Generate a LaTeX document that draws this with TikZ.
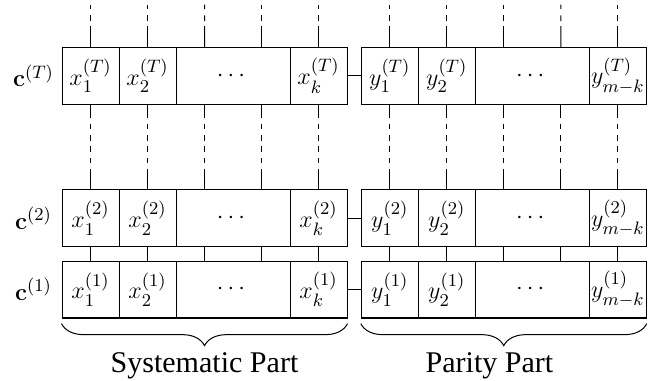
\documentclass[tikz,border=0pt]{standalone}
\usepackage{amsmath, amssymb}
\usepackage[no-math]{fontspec}
\setmainfont{Liberation Serif}
\usetikzlibrary{decorations.pathreplacing}

\begin{document}
\begin{tikzpicture}[
            line width=0.5pt,
            cell/.style={rectangle, draw, minimum width=1cm, minimum height=1cm, inner sep=0pt, font=\fontsize{12.6}{15}\selectfont},
            widecell/.style={cell, minimum width=2cm},
            rowlabel/.style={font=\fontsize{12.6}{15}\selectfont},
            link/.style={dash pattern=on 2.3mm off 1mm on 1mm off 1mm on 1mm off 1mm on 1mm off 1mm on 1mm off 1mm on 4mm},
            stub/.style={dash pattern=on 3.6mm off 0.9mm on 1mm off 1.1mm on 2mm},
            partbrace/.style={decorate, decoration={brace, mirror, amplitude=11pt}},
            partname/.style={font=\fontsize{15}{18}\selectfont, anchor=base}
        ]
            \useasboundingbox (-1.088,-1.088) rectangle (10.386,5.579);

            % Codeword c^(T) (top row)
            \node[rowlabel] (cT) at (-0.5, 4.25) {$\mathbf{c}^{(T)}$};
            \node[cell] (x1T) at (0.5, 4.25) {$x_1^{(T)}$};
            \node[cell] (x2T) at (1.5, 4.25) {$x_2^{(T)}$};
            \node[widecell] (xdT) at (3.0, 4.25) {$\cdots$};
            \node[cell] (xkT) at (4.5, 4.25) {$x_k^{(T)}$};
            \node[cell] (y1T) at (5.75, 4.25) {$y_1^{(T)}$};
            \node[cell] (y2T) at (6.75, 4.25) {$y_2^{(T)}$};
            \node[widecell] (ydT) at (8.25, 4.25) {$\cdots$};
            \node[cell] (ymT) at (9.75, 4.25) {$y_{m-k}^{(T)}$};

            % Codeword c^(2) (row b)
            \node[rowlabel] (cb) at (-0.5, 1.75) {$\mathbf{c}^{(2)}$};
            \node[cell] (x1b) at (0.5, 1.75) {$x_1^{(2)}$};
            \node[cell] (x2b) at (1.5, 1.75) {$x_2^{(2)}$};
            \node[widecell] (xdb) at (3.0, 1.75) {$\cdots$};
            \node[cell] (xkb) at (4.5, 1.75) {$x_k^{(2)}$};
            \node[cell] (y1b) at (5.75, 1.75) {$y_1^{(2)}$};
            \node[cell] (y2b) at (6.75, 1.75) {$y_2^{(2)}$};
            \node[widecell] (ydb) at (8.25, 1.75) {$\cdots$};
            \node[cell] (ymb) at (9.75, 1.75) {$y_{m-k}^{(2)}$};

            % Codeword c^(1) (row a)
            \node[rowlabel] (ca) at (-0.5, 0.5) {$\mathbf{c}^{(1)}$};
            \node[cell] (x1a) at (0.5, 0.5) {$x_1^{(1)}$};
            \node[cell] (x2a) at (1.5, 0.5) {$x_2^{(1)}$};
            \node[widecell] (xda) at (3.0, 0.5) {$\cdots$};
            \node[cell] (xka) at (4.5, 0.5) {$x_k^{(1)}$};
            \node[cell] (y1a) at (5.75, 0.5) {$y_1^{(1)}$};
            \node[cell] (y2a) at (6.75, 0.5) {$y_2^{(1)}$};
            \node[widecell] (yda) at (8.25, 0.5) {$\cdots$};
            \node[cell] (yma) at (9.75, 0.5) {$y_{m-k}^{(1)}$};

            % Free ends above the top row
            \coordinate (top1) at (0.5, 5.5);
            \coordinate (top2) at (1.5, 5.5);
            \coordinate (top3) at (2.5, 5.5);
            \coordinate (top4) at (3.5, 5.5);
            \coordinate (top5) at (4.5, 5.5);
            \coordinate (top6) at (5.75, 5.5);
            \coordinate (top7) at (6.75, 5.5);
            \coordinate (top8) at (7.75, 5.5);
            \coordinate (top9) at (8.75, 5.5);
            \coordinate (top10) at (9.75, 5.5);

            % Stubs above c^(T)
            \draw[stub] (x1T) -- (top1);
            \draw[stub] (x2T) -- (top2);
            \draw[stub] ([xshift=-5mm]xdT.north) -- (top3);
            \draw[stub] ([xshift=5mm]xdT.north) -- (top4);
            \draw[stub] (xkT) -- (top5);
            \draw[stub] (y1T) -- (top6);
            \draw[stub] (y2T) -- (top7);
            \draw[stub] ([xshift=-5mm]ydT.north) -- (top8);
            \draw[stub] ([xshift=5mm]ydT.north) -- (top9);
            \draw[stub] (ymT) -- (top10);

            % Links c^(T) -- c^(2)
            \draw[link] (x1T) -- (x1b);
            \draw[link] (x2T) -- (x2b);
            \draw[link] ([xshift=-5mm]xdT.south) -- ([xshift=-5mm]xdb.north);
            \draw[link] ([xshift=5mm]xdT.south) -- ([xshift=5mm]xdb.north);
            \draw[link] (xkT) -- (xkb);
            \draw[link] (y1T) -- (y1b);
            \draw[link] (y2T) -- (y2b);
            \draw[link] ([xshift=-5mm]ydT.south) -- ([xshift=-5mm]ydb.north);
            \draw[link] ([xshift=5mm]ydT.south) -- ([xshift=5mm]ydb.north);
            \draw[link] (ymT) -- (ymb);

            % Links c^(2) -- c^(1)
            \draw (x1b) -- (x1a);
            \draw (x2b) -- (x2a);
            \draw ([xshift=-5mm]xdb.south) -- ([xshift=-5mm]xda.north);
            \draw ([xshift=5mm]xdb.south) -- ([xshift=5mm]xda.north);
            \draw (xkb) -- (xka);
            \draw (y1b) -- (y1a);
            \draw (y2b) -- (y2a);
            \draw ([xshift=-5mm]ydb.south) -- ([xshift=-5mm]yda.north);
            \draw ([xshift=5mm]ydb.south) -- ([xshift=5mm]yda.north);
            \draw (ymb) -- (yma);

            % Systematic -- parity joins
            \draw (xkT) -- (y1T);
            \draw (xkb) -- (y1b);
            \draw (xka) -- (y1a);

            % Braces
            \draw[partbrace] ([yshift=-0.9mm]x1a.south west) -- ([yshift=-0.9mm]xka.south east);
            \draw[partbrace] ([yshift=-0.9mm]y1a.south west) -- ([yshift=-0.9mm]yma.south east);
            \node[partname] (sys) at (2.5, -0.95) {Systematic Part};
            \node[partname] (par) at (7.5, -0.95) {Parity Part};
        \end{tikzpicture}
\end{document}
